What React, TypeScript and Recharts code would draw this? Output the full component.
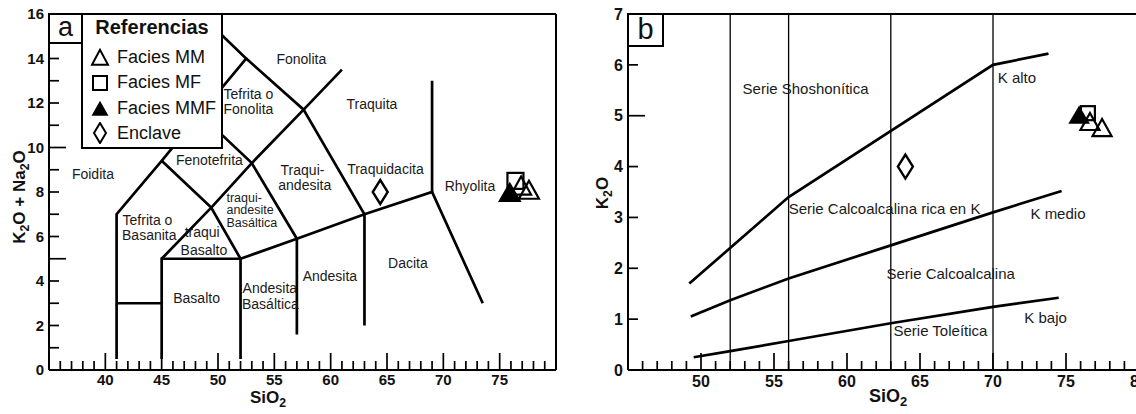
import React from 'react';
import { ScatterChart, Scatter, XAxis, YAxis, Legend, ReferenceLine } from 'recharts';

const FONT = '"Liberation Sans", Arial, Helvetica, sans-serif';
const INK = '#111';

// ---------------- Panel a: TAS diagram ----------------
const tasXTicks = [35, 36, 37, 38, 39, 40, 41, 42, 43, 44, 45, 46, 47, 48, 49, 50, 51, 52, 53, 54, 55, 56, 57, 58, 59, 60, 61, 62, 63, 64, 65, 66, 67, 68, 69, 70, 71, 72, 73, 74, 75, 76, 77, 78, 79, 80];
const tasXLabels = [40, 45, 50, 55, 60, 65, 70, 75];
const tasYTicks = [0, 1, 2, 3, 4, 5, 6, 7, 8, 9, 10, 11, 12, 13, 14, 15, 16];
const tasYLabels = [0, 2, 4, 6, 8, 10, 12, 14, 16];

const tasFoiditeLine = [{ x: 41, y: 0.5 }, { x: 41, y: 7 }, { x: 45, y: 9.4 }, { x: 48.4, y: 11.5 }, { x: 52.5, y: 14 }, { x: 48.4, y: 16 }];
const tasPicroLine = [{ x: 41, y: 3 }, { x: 45, y: 3 }];
const tasBasaltLine = [{ x: 45, y: 0.5 }, { x: 45, y: 5 }, { x: 52, y: 5 }, { x: 52, y: 0.5 }];
const tasTephriteLine = [{ x: 45, y: 5 }, { x: 49.4, y: 7.3 }, { x: 45, y: 9.4 }];
const tasTrachyLine = [{ x: 52, y: 5 }, { x: 49.4, y: 7.3 }, { x: 53, y: 9.3 }, { x: 48.4, y: 11.5 }];
const tasSubalkLine = [{ x: 52, y: 5 }, { x: 57, y: 5.9 }, { x: 63, y: 7 }, { x: 69, y: 8 }, { x: 73.5, y: 3 }];
const tasAndesiteLine = [{ x: 57, y: 1.6 }, { x: 57, y: 5.9 }, { x: 53, y: 9.3 }, { x: 57.6, y: 11.7 }, { x: 52.5, y: 14 }];
const tasDaciteLine = [{ x: 63, y: 2 }, { x: 63, y: 7 }, { x: 57.6, y: 11.7 }, { x: 61, y: 13.5 }];
const tasRhyoliteLine = [{ x: 69, y: 8 }, { x: 69, y: 13 }];

const tasLabels = [
  { x: 38.9, y: 8.83, t: 'Foidita' },
  { x: 49.24, y: 9.46, t: 'Fenotefrita' },
  { x: 52.7, y: 12.39, t: 'Tefrita o' },
  { x: 52.7, y: 11.71, t: 'Fonolita' },
  { x: 57.4, y: 13.96, t: 'Fonolita' },
  { x: 63.66, y: 11.94, t: 'Traquita' },
  { x: 57.5, y: 9.0, t: 'Traqui-' },
  { x: 57.7, y: 8.33, t: 'andesita' },
  { x: 64.86, y: 9.04, t: 'Traquidacita' },
  { x: 72.36, y: 8.26, t: 'Rhyolita' },
  { x: 66.86, y: 4.82, t: 'Dacita' },
  { x: 59.93, y: 4.23, t: 'Andesita' },
  { x: 54.6, y: 3.69, t: 'Andesita' },
  { x: 54.65, y: 2.97, t: 'Basáltica' },
  { x: 48.1, y: 3.24, t: 'Basalto' },
  { x: 48.6, y: 6.2, t: 'traqui' },
  { x: 48.75, y: 5.4, t: 'Basalto' },
  { x: 43.74, y: 6.76, t: 'Tefrita o' },
  { x: 43.9, y: 6.08, t: 'Basanita' },
];
const tasSmallLabels = [
  { x: 50.75, y: 7.72, t: 'traqui-', a: 'start' },
  { x: 50.75, y: 7.18, t: 'andesite', a: 'start' },
  { x: 50.75, y: 6.6, t: 'Basáltica', a: 'start' },
];

const tasMM = [{ x: 76.9, y: 8.25 }, { x: 77.6, y: 8.06 }];
const tasMF = [{ x: 76.4, y: 8.5 }];
const tasMMF = [{ x: 75.9, y: 7.95 }];
const tasEnclave = [{ x: 64.4, y: 8.0 }];

// ---------------- Panel b: K2O vs SiO2 ----------------
const kXTicks = [45, 46, 47, 48, 49, 50, 51, 52, 53, 54, 55, 56, 57, 58, 59, 60, 61, 62, 63, 64, 65, 66, 67, 68, 69, 70, 71, 72, 73, 74, 75, 76, 77, 78, 79, 80];
const kXLabels = [50, 55, 60, 65, 70, 75, 80];
const kYTicks = [0, 1, 2, 3, 4, 5, 6, 7];
const kYLabels = [0, 1, 2, 3, 4, 5, 6, 7];
const kDividers = [52, 56, 63, 70];

const kShoshoniteLine = [{ x: 49.2, y: 1.7 }, { x: 56, y: 3.4 }, { x: 70, y: 6.0 }, { x: 73.8, y: 6.22 }];
const kHighKLine = [{ x: 49.3, y: 1.05 }, { x: 52, y: 1.37 }, { x: 56, y: 1.8 }, { x: 63, y: 2.45 }, { x: 70, y: 3.1 }, { x: 74.7, y: 3.52 }];
const kLowKLine = [{ x: 49.5, y: 0.25 }, { x: 52, y: 0.37 }, { x: 56, y: 0.57 }, { x: 63, y: 0.92 }, { x: 70, y: 1.24 }, { x: 74.5, y: 1.42 }];

const kLabels = [
  { x: 57.16, y: 5.54, t: 'Serie Shoshonítica' },
  { x: 71.64, y: 5.76, t: 'K alto' },
  { x: 62.57, y: 3.18, t: 'Serie Calcoalcalina rica en K' },
  { x: 74.45, y: 3.08, t: 'K medio' },
  { x: 67.1, y: 1.89, t: 'Serie Calcoalcalina' },
  { x: 73.6, y: 1.035, t: 'K bajo' },
  { x: 66.4, y: 0.77, t: 'Serie Toleítica' },
];

const kMM = [{ x: 76.64, y: 4.87 }, { x: 77.47, y: 4.75 }];
const kMF = [{ x: 76.5, y: 5.05 }];
const kMMF = [{ x: 75.9, y: 5.0 }];
const kEnclave = [{ x: 64.0, y: 4.0 }];

// ---------------- helpers ----------------
const nothing = () => <g />;

const xTick = (labels: number[], side: 'bottom' | 'top', fs: number, dy: number) => (props: any) => {
  const { x, y, payload } = props;
  const v = payload.value;
  const len = v % 5 === 0 ? 17 : 9;
  const dir = side === 'bottom' ? -1 : 1;
  return (
    <g>
      <line x1={x} x2={x} y1={y} y2={y + dir * len} stroke="#000" strokeWidth={1.7} />
      {side === 'bottom' && labels.includes(v) ? (
        <text x={x} y={y + dy} textAnchor="middle" fontFamily={FONT} fontWeight="bold" fontSize={fs} fill={INK}>{v}</text>
      ) : null}
    </g>
  );
};

const yTick = (labels: number[], side: 'left' | 'right', fs: number) => (props: any) => {
  const { x, y, payload } = props;
  const v = payload.value;
  const len = v % 5 === 0 ? 17 : 10;
  const dir = side === 'left' ? 1 : -1;
  return (
    <g>
      <line x1={x} x2={x + dir * len} y1={y} y2={y} stroke="#000" strokeWidth={1.7} />
      {side === 'left' && labels.includes(v) ? (
        <text x={x - 5} y={y + fs * 0.36} textAnchor="end" fontFamily={FONT} fontWeight="bold" fontSize={fs} fill={INK}>{v}</text>
      ) : null}
    </g>
  );
};

const labelShape = (fs: number) => (p: any) => {
  const d = p.payload || {};
  return (
    <text x={p.cx} y={p.cy} textAnchor={d.a || 'middle'} dominantBaseline="central" fontFamily={FONT} fontSize={fs} fill="#1a1a1a">{d.t}</text>
  );
};

const triPts = (cx: number, cy: number, w: number, h: number) =>
  `${cx},${cy - h * 0.55} ${cx - w / 2},${cy + h * 0.45} ${cx + w / 2},${cy + h * 0.45}`;
const diaPts = (cx: number, cy: number, w: number, h: number) =>
  `${cx},${cy - h / 2} ${cx + w / 2},${cy} ${cx},${cy + h / 2} ${cx - w / 2},${cy}`;

const openTri = (w: number, h: number) => (p: any) => (
  <polygon points={triPts(p.cx, p.cy, w, h)} fill="none" stroke="#000" strokeWidth={2.2} strokeLinejoin="miter" />
);
const fillTri = (w: number, h: number) => (p: any) => (
  <polygon points={triPts(p.cx, p.cy, w, h)} fill="#000" stroke="#000" strokeWidth={1.5} />
);
const openSq = (s: number) => (p: any) => (
  <rect x={p.cx - s / 2} y={p.cy - s / 2} width={s} height={s} fill="none" stroke="#000" strokeWidth={2.2} />
);
const openDia = (w: number, h: number) => (p: any) => (
  <polygon points={diaPts(p.cx, p.cy, w, h)} fill="none" stroke="#000" strokeWidth={2.4} />
);

const legendIcon = (name: string) => {
  if (name === 'Facies MM') return <polygon points={triPts(11, 12, 16, 15)} fill="none" stroke="#000" strokeWidth={2} />;
  if (name === 'Facies MF') return <rect x={4} y={5} width={14} height={14} fill="none" stroke="#000" strokeWidth={2} />;
  if (name === 'Facies MMF') return <polygon points={triPts(11, 12, 17, 15)} fill="#000" />;
  if (name === 'Enclave') return <polygon points={diaPts(11, 11, 12, 20)} fill="none" stroke="#000" strokeWidth={2} />;
  return null;
};

const legendNames = ['Facies MM', 'Facies MF', 'Facies MMF', 'Enclave'];
const legendRowCenters = [42, 67, 93, 118];

const LegendBox = (props: any) => {
  const items = (props.payload || [])
    .filter((p: any) => legendNames.includes(p.value))
    .sort((a: any, b: any) => legendNames.indexOf(a.value) - legendNames.indexOf(b.value));
  return (
    <div style={{ position: 'relative', width: 142, height: 136, border: '2px solid #000', boxSizing: 'border-box', background: '#fff', fontFamily: FONT, color: INK }}>
      <div style={{ position: 'absolute', left: 0, right: 0, top: 0, textAlign: 'center', fontWeight: 'bold', fontSize: 20, lineHeight: '24px' }}>Referencias</div>
      {items.map((it: any, i: number) => (
        <div key={it.value} style={{ position: 'absolute', left: 6, top: legendRowCenters[i] - 11, height: 22, display: 'flex', alignItems: 'center', whiteSpace: 'nowrap' }}>
          <svg width={22} height={22} style={{ display: 'block' }}>{legendIcon(it.value)}</svg>
          <span style={{ marginLeft: 6, fontSize: 18, lineHeight: '22px' }}>{it.value}</span>
        </div>
      ))}
    </div>
  );
};

const sub = (t: string) => <span style={{ fontSize: '0.72em', position: 'relative', top: '0.32em' }}>{t}</span>;

const lineStyle = { stroke: '#000', strokeWidth: 2.7 };
const axisLineStyle = { stroke: '#000', strokeWidth: 2 };

export default function App() {
  return (
    <div style={{ position: 'absolute', left: 0, top: 0, width: 1136, height: 414, overflow: 'hidden', background: '#fff' }}>
      {/* Panel a */}
      <div style={{ position: 'absolute', left: 0, top: 0 }}>
        <ScatterChart width={580} height={414} margin={{ top: 13, left: 48, right: 23, bottom: 43 }}>
          <XAxis xAxisId="b" dataKey="x" type="number" domain={[35, 80]} ticks={tasXTicks} interval={0} height={1} tickSize={0} tickMargin={0} tickLine={false} axisLine={axisLineStyle} tick={xTick(tasXLabels, 'bottom', 15, 15)} />
          <XAxis xAxisId="t" orientation="top" dataKey="x" type="number" domain={[35, 80]} ticks={tasXTicks} interval={0} height={1} tickSize={0} tickMargin={0} tickLine={false} axisLine={axisLineStyle} tick={xTick(tasXLabels, 'top', 15, 15)} />
          <YAxis yAxisId="l" dataKey="y" type="number" domain={[0, 16]} ticks={tasYTicks} interval={0} width={1} tickSize={0} tickMargin={0} tickLine={false} axisLine={axisLineStyle} tick={yTick(tasYLabels, 'left', 15)} />
          <YAxis yAxisId="r" orientation="right" dataKey="y" type="number" domain={[0, 16]} ticks={tasYTicks} interval={0} width={1} tickSize={0} tickMargin={0} tickLine={false} axisLine={axisLineStyle} tick={yTick(tasYLabels, 'right', 15)} />
          {[tasFoiditeLine, tasPicroLine, tasBasaltLine, tasTephriteLine, tasTrachyLine, tasSubalkLine, tasAndesiteLine, tasDaciteLine, tasRhyoliteLine].map((d, i) => (
            <Scatter key={'tl' + i} xAxisId="b" yAxisId="l" data={d} line={lineStyle} lineType="joint" shape={nothing} legendType="none" isAnimationActive={false} />
          ))}
          <Scatter xAxisId="b" yAxisId="l" data={tasLabels} shape={labelShape(14)} legendType="none" isAnimationActive={false} />
          <Scatter xAxisId="b" yAxisId="l" data={tasSmallLabels} shape={labelShape(12.5)} legendType="none" isAnimationActive={false} />
          <Scatter name="Facies MM" xAxisId="b" yAxisId="l" data={tasMM} shape={openTri(20, 18)} isAnimationActive={false} />
          <Scatter name="Facies MF" xAxisId="b" yAxisId="l" data={tasMF} shape={openSq(16)} isAnimationActive={false} />
          <Scatter name="Facies MMF" xAxisId="b" yAxisId="l" data={tasMMF} shape={fillTri(21, 18)} isAnimationActive={false} />
          <Scatter name="Enclave" xAxisId="b" yAxisId="l" data={tasEnclave} shape={openDia(15, 24)} isAnimationActive={false} />
          <Legend layout="vertical" align="center" verticalAlign="middle" content={LegendBox} wrapperStyle={{ left: 81, top: 13, width: 142, height: 136 }} />
        </ScatterChart>
      </div>

      {/* Panel b */}
      <div style={{ position: 'absolute', left: 560, top: 0 }}>
        <ScatterChart width={600} height={414} margin={{ top: 13, left: 67, right: 20, bottom: 43 }}>
          <XAxis xAxisId="b" dataKey="x" type="number" domain={[45, 80]} ticks={kXTicks} interval={0} height={1} tickSize={0} tickMargin={0} tickLine={false} axisLine={axisLineStyle} tick={xTick(kXLabels, 'bottom', 16, 17)} />
          <XAxis xAxisId="t" orientation="top" dataKey="x" type="number" domain={[45, 80]} ticks={kXTicks} interval={0} height={1} tickSize={0} tickMargin={0} tickLine={false} axisLine={axisLineStyle} tick={xTick(kXLabels, 'top', 16, 17)} />
          <YAxis yAxisId="l" dataKey="y" type="number" domain={[0, 7]} ticks={kYTicks} interval={0} width={1} tickSize={0} tickMargin={0} tickLine={false} axisLine={axisLineStyle} tick={yTick(kYLabels, 'left', 16)} />
          <YAxis yAxisId="r" orientation="right" dataKey="y" type="number" domain={[0, 7]} ticks={kYTicks} interval={0} width={1} tickSize={0} tickMargin={0} tickLine={false} axisLine={axisLineStyle} tick={yTick(kYLabels, 'right', 16)} />
          {kDividers.map((v) => (
            <ReferenceLine key={'kd' + v} xAxisId="b" yAxisId="l" x={v} stroke="#000" strokeWidth={1.3} />
          ))}
          {[kShoshoniteLine, kHighKLine, kLowKLine].map((d, i) => (
            <Scatter key={'kl' + i} xAxisId="b" yAxisId="l" data={d} line={lineStyle} lineType="joint" shape={nothing} legendType="none" isAnimationActive={false} />
          ))}
          <Scatter xAxisId="b" yAxisId="l" data={kLabels} shape={labelShape(15)} legendType="none" isAnimationActive={false} />
          <Scatter name="Facies MM" xAxisId="b" yAxisId="l" data={kMM} shape={openTri(19, 17)} isAnimationActive={false} />
          <Scatter name="Facies MF" xAxisId="b" yAxisId="l" data={kMF} shape={openSq(14)} isAnimationActive={false} />
          <Scatter name="Facies MMF" xAxisId="b" yAxisId="l" data={kMMF} shape={fillTri(19, 16)} isAnimationActive={false} />
          <Scatter name="Enclave" xAxisId="b" yAxisId="l" data={kEnclave} shape={openDia(15, 24)} isAnimationActive={false} />
        </ScatterChart>
      </div>

      {/* panel tags */}
      <div style={{ position: 'absolute', left: 48, top: 13, width: 35, height: 31, border: '2px solid #000', boxSizing: 'border-box', background: '#fff', fontFamily: FONT, fontSize: 27, lineHeight: '25px', textAlign: 'center', color: INK }}>a</div>
      <div style={{ position: 'absolute', left: 627, top: 13, width: 37, height: 34, border: '2px solid #000', boxSizing: 'border-box', background: '#fff', fontFamily: FONT, fontSize: 29, lineHeight: '29px', textAlign: 'center', color: INK }}>b</div>

      {/* axis titles */}
      <div style={{ position: 'absolute', left: 20, top: 197, transform: 'translate(-50%,-50%) rotate(-90deg)', whiteSpace: 'nowrap', fontFamily: FONT, fontWeight: 'bold', fontSize: 17, lineHeight: '20px', color: INK }}>
        K{sub('2')}O + Na{sub('2')}O
      </div>
      <div style={{ position: 'absolute', left: 250, top: 388, whiteSpace: 'nowrap', fontFamily: FONT, fontWeight: 'bold', fontSize: 17, lineHeight: '20px', color: INK }}>
        SiO{sub('2')}
      </div>
      <div style={{ position: 'absolute', left: 603, top: 193, transform: 'translate(-50%,-50%) rotate(-90deg)', whiteSpace: 'nowrap', fontFamily: FONT, fontWeight: 'bold', fontSize: 17, lineHeight: '20px', color: INK }}>
        K{sub('2')}O
      </div>
      <div style={{ position: 'absolute', left: 869, top: 386, whiteSpace: 'nowrap', fontFamily: FONT, fontWeight: 'bold', fontSize: 18, lineHeight: '20px', color: INK }}>
        SiO{sub('2')}
      </div>
    </div>
  );
}
